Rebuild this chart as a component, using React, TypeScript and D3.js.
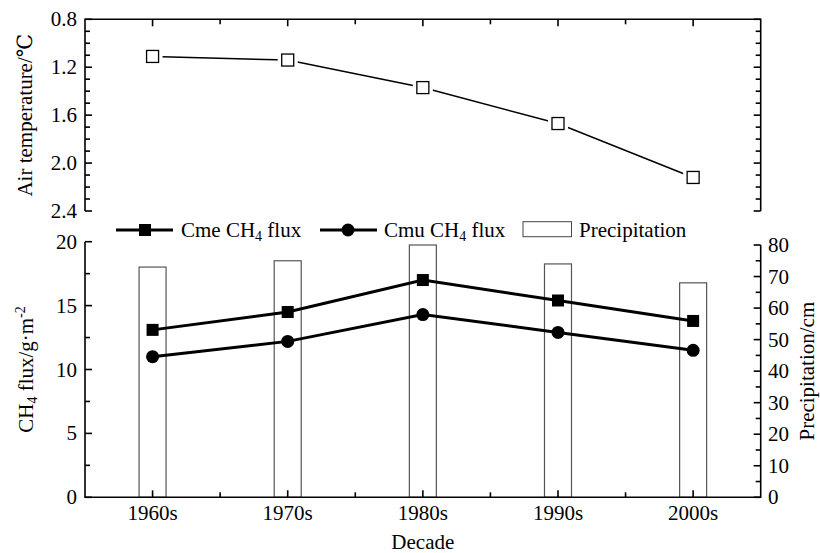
import * as d3 from 'd3'

const decades = ['1960s', '1970s', '1980s', '1990s', '2000s']
const airTemp = [1.11, 1.14, 1.37, 1.67, 2.12]
const cmeFlux = [13.1, 14.5, 17.0, 15.4, 13.8]
const cmuFlux = [11.0, 12.2, 14.3, 12.9, 11.5]
const precipitation = [73, 75, 80, 74, 68]

const tempTicks = [0.8, 1.2, 1.6, 2.0, 2.4]
const fluxTicks = [0, 5, 10, 15, 20]
const precipTicks = [0, 10, 20, 30, 40, 50, 60, 70, 80]

const W = 820
const H = 553
const FONT = '"Liberation Serif", "DejaVu Serif", serif'
const FS = 21
const SUB = 14

export default function App() {
  const left = 85
  const right = 760.7
  const x = d3.scalePoint<string>().domain(decades).range([left, right]).padding(0.5)
  const step = x.step()

  const yT = d3.scaleLinear().domain([0.8, 2.4]).range([19.3, 211])
  const yF = d3.scaleLinear().domain([0, 20]).range([497.3, 241.7])
  const yP = d3.scaleLinear().domain([0, 80]).range([497.3, 245])

  const xTicks = d3.range(0, decades.length * 2 - 1).map(i => x(decades[0])! + (i * step) / 2)
  const tempMinor = d3.range(8, 25).map(v => v / 10)
  const fluxMinor = d3.range(0, 9).map(v => v * 2.5)
  const precipMinor = d3.range(0, 17).map(v => v * 5)

  const tempLine = d3.line<number>().x((_, i) => x(decades[i])!).y(d => yT(d))
  const fluxLine = d3.line<number>().x((_, i) => x(decades[i])!).y(d => yF(d))

  const barW = 27
  const ax = { stroke: '#000', strokeWidth: 1.6 }

  return (
    <>
      <style>{'body{margin:0}'}</style>
      <svg width={W} height={H} style={{ display: 'block', background: '#fff' }} fontFamily={FONT} fontSize={FS}>
        {/* top panel: air temperature */}
        <path d={`M${left},211V${yT(0.8)}H${right}V211`} fill="none" {...ax} />
        {tempMinor.map(v => {
          const major = Math.round(v * 10) % 4 === 0
          const len = major ? 7 : 5
          return (
            <g key={`tt${v}`}>
              <line x1={left} x2={left + len} y1={yT(v)} y2={yT(v)} {...ax} />
              <line x1={right} x2={right - len} y1={yT(v)} y2={yT(v)} {...ax} />
            </g>
          )
        })}
        {xTicks.map((t, i) => (
          <line key={`xt${i}`} x1={t} x2={t} y1={yT(0.8)} y2={yT(0.8) + (i % 2 ? 5 : 7)} {...ax} />
        ))}
        {tempTicks.map(v => (
          <text key={`tl${v}`} x={77} y={yT(v) + 7} textAnchor="end">{v.toFixed(1)}</text>
        ))}
        <path d={tempLine(airTemp)!} fill="none" stroke="#000" strokeWidth={1.5} />
        {airTemp.map((v, i) => (
          <g key={`tm${i}`}>
            <rect x={x(decades[i])! - 10} y={yT(v) - 10} width={20} height={20} fill="#fff" />
            <rect x={x(decades[i])! - 6} y={yT(v) - 6} width={12} height={12} fill="#fff" stroke="#000" strokeWidth={1.3} />
          </g>
        ))}
        <text transform={`translate(32,${(yT(0.8) + yT(2.4)) / 2}) rotate(-90)`} textAnchor="middle">Air temperature/℃</text>

        {/* legend */}
        <g>
          <line x1={116} x2={173} y1={230} y2={230} stroke="#000" strokeWidth={3} />
          <rect x={139} y={224} width={12} height={12} fill="#000" />
          <text x={181} y={237}>Cme CH<tspan dy={4} fontSize={SUB}>4</tspan><tspan dy={-4}> flux</tspan></text>
          <line x1={320} x2={377} y1={230} y2={230} stroke="#000" strokeWidth={3} />
          <circle cx={348} cy={230} r={6.5} fill="#000" />
          <text x={384} y={237}>Cmu CH<tspan dy={4} fontSize={SUB}>4</tspan><tspan dy={-4}> flux</tspan></text>
          <rect x={523} y={221.7} width={48.5} height={15} fill="#fff" stroke="#444" strokeWidth={1} />
          <text x={579} y={237}>Precipitation</text>
        </g>

        {/* bottom panel bars */}
        {precipitation.map((v, i) => (
          <rect key={`b${i}`} x={x(decades[i])! - barW / 2} y={yP(v)} width={barW} height={yP(0) - yP(v)} fill="#fff" stroke="#555" strokeWidth={1.2} />
        ))}

        {/* bottom panel axes */}
        <path d={`M${left},${yF(20)}V${yF(0)}H${right}V${yP(80)}`} fill="none" {...ax} />
        {fluxMinor.map(v => {
          const len = v % 5 === 0 ? 7 : 5
          return <line key={`ft${v}`} x1={left} x2={left + len} y1={yF(v)} y2={yF(v)} {...ax} />
        })}
        {precipMinor.map(v => {
          const len = v % 10 === 0 ? 7 : 5
          return <line key={`pt${v}`} x1={right} x2={right - len} y1={yP(v)} y2={yP(v)} {...ax} />
        })}
        {xTicks.map((t, i) => (
          <line key={`bx${i}`} x1={t} x2={t} y1={yF(0)} y2={yF(0) - (i % 2 ? 5 : 7)} {...ax} />
        ))}
        {fluxTicks.map(v => (
          <text key={`fl${v}`} x={77} y={yF(v) + 7} textAnchor="end">{v}</text>
        ))}
        {precipTicks.map(v => (
          <text key={`pl${v}`} x={768} y={yP(v) + 7}>{v}</text>
        ))}
        {decades.map(d => (
          <text key={d} x={x(d)} y={520} textAnchor="middle">{d}</text>
        ))}

        {/* flux lines */}
        <path d={fluxLine(cmeFlux)!} fill="none" stroke="#000" strokeWidth={3} />
        <path d={fluxLine(cmuFlux)!} fill="none" stroke="#000" strokeWidth={3} />
        {cmeFlux.map((v, i) => (
          <rect key={`cm${i}`} x={x(decades[i])! - 6} y={yF(v) - 6} width={12} height={12} fill="#000" />
        ))}
        {cmuFlux.map((v, i) => (
          <circle key={`cu${i}`} cx={x(decades[i])} cy={yF(v)} r={6.5} fill="#000" />
        ))}

        <text transform={`translate(33,${(yF(0) + yF(20)) / 2}) rotate(-90)`} textAnchor="middle">
          CH<tspan dy={4} fontSize={SUB}>4</tspan><tspan dy={-4}> flux/g·m</tspan><tspan dy={-8} fontSize={SUB}>-2</tspan>
        </text>
        <text transform={`translate(814,${(yP(0) + yP(80)) / 2}) rotate(-90)`} textAnchor="middle">Precipitation/cm</text>
        <text x={(left + right) / 2} y={549} textAnchor="middle">Decade</text>
      </svg>
    </>
  )
}
